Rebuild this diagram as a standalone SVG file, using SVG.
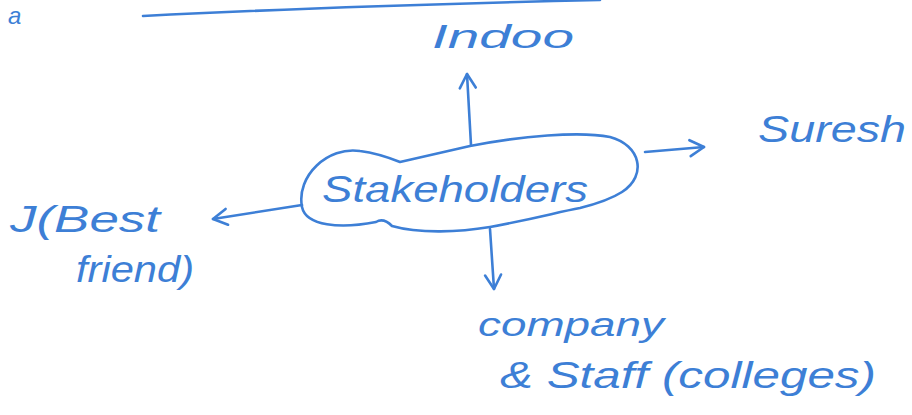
<svg xmlns="http://www.w3.org/2000/svg" width="912" height="415" viewBox="0 0 912 415">
<defs>
<style>
.ink{fill:none;stroke:#3d7fd6;stroke-width:2.6;stroke-linecap:round;stroke-linejoin:round}
.t{fill:#3d7fd6;font-family:"Liberation Sans","DejaVu Sans",sans-serif;font-style:italic}
</style>
<marker id="ah" viewBox="0 0 20 20" refX="18" refY="10" markerWidth="20" markerHeight="20" markerUnits="userSpaceOnUse" orient="auto">
<polyline points="4,2 18,10 4,18" fill="none" stroke="#3d7fd6" stroke-width="2.6" stroke-linecap="round" stroke-linejoin="round"/>
</marker>
</defs>
<rect width="912" height="415" fill="#ffffff"/>
<g id="top-fragment">
<text class="t" x="8" y="24" font-size="24">a</text>
<path class="ink" d="M143,16 C260,10 420,4 600,0"/>
</g>
<g id="connectors">
<path class="ink" d="M471,145 L467,74" marker-end="url(#ah)"/>
<path class="ink" d="M645,152 L704,147" marker-end="url(#ah)"/>
<path class="ink" d="M302,205 L213,219" marker-end="url(#ah)"/>
<path class="ink" d="M490,229 L494,289" marker-end="url(#ah)"/>
</g>
<g id="stakeholders">
<path class="ink" d="M302,207 C296,176 328,146 360,151 C376,153 390,158 400,162 L470,146 C520,136 580,131 610,137 C640,145 648,175 622,192 C608,201 592,205 580,208 C558,212 538,218 490,227 C460,232 420,234 392,226 C387,221 381,219 376,222 C340,229 306,226 302,207 Z"/>
<text class="t" x="322" y="202" font-size="36" textLength="266" lengthAdjust="spacingAndGlyphs">Stakeholders</text>
</g>
<g id="indoo">
<text class="t" x="432" y="48" font-size="34" textLength="142" lengthAdjust="spacingAndGlyphs">Indoo</text>
</g>
<g id="suresh">
<text class="t" x="758" y="142" font-size="36" textLength="148" lengthAdjust="spacingAndGlyphs">Suresh</text>
</g>
<g id="best-friend">
<text class="t" x="10" y="232" font-size="36" textLength="150" lengthAdjust="spacingAndGlyphs">J(Best</text>
<text class="t" x="76" y="282" font-size="36" textLength="118" lengthAdjust="spacingAndGlyphs">friend)</text>
</g>
<g id="company">
<text class="t" x="478" y="336" font-size="34" textLength="186" lengthAdjust="spacingAndGlyphs">company</text>
<text class="t" x="500" y="388" font-size="36" textLength="376" lengthAdjust="spacingAndGlyphs">&amp; Staff (colleges)</text>
</g>
</svg>
